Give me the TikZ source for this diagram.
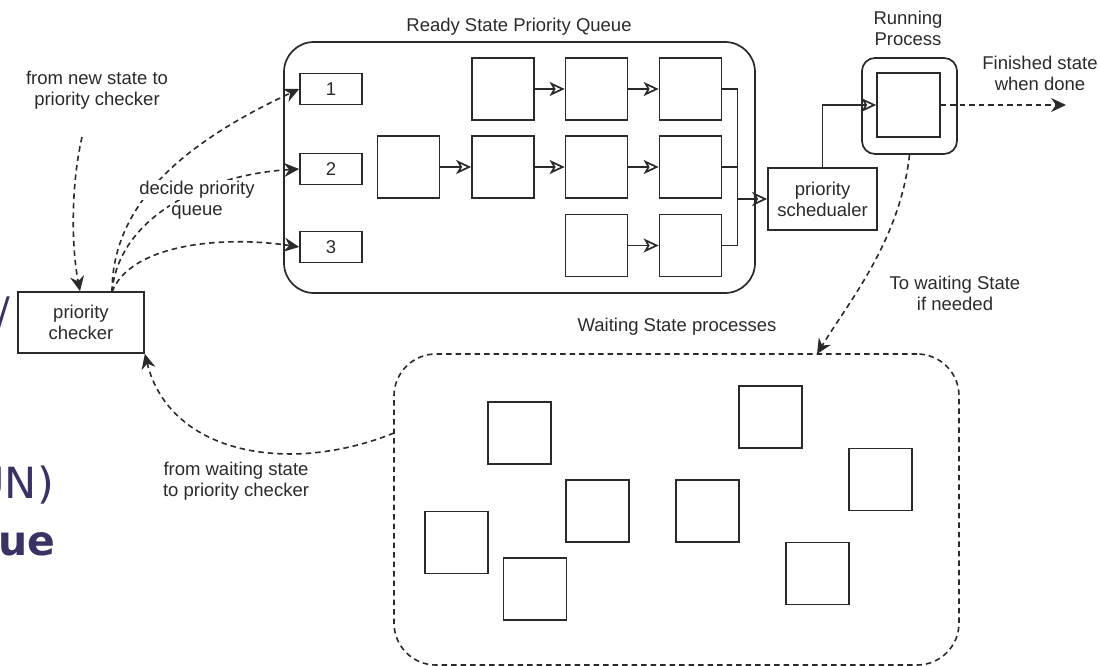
\documentclass[tikz,border=0pt]{standalone}
\usepackage{fontspec}
\setmainfont{Liberation Sans}
\newfontfamily\dejavu{DejaVu Sans}
\usetikzlibrary{arrows.meta}
\definecolor{ink}{HTML}{2A2A2A}
\definecolor{plum}{HTML}{3A3262}
\begin{document}
\begin{tikzpicture}[x=1pt,y=-1pt,
  every node/.style={font=\fontsize{18.5}{21}\selectfont, text=ink, align=center},
  proc/.style={draw=ink, line width=1.7pt, fill=white, minimum width=62pt, minimum height=62pt, inner sep=0pt},
  wproc/.style={proc, minimum width=63pt},
  tag/.style={draw=ink, line width=1.7pt, minimum width=62pt, minimum height=31pt, inner sep=0pt},
  boxed/.style={draw=ink, line width=1.7pt, inner sep=0pt},
  link/.style={draw=ink, line width=1.7pt},
  openlink/.style={link, -{Stealth[open, length=15pt, width=14pt, inset=4pt, fill=white]}},
  dashlink/.style={draw=ink, line width=1.6pt, dash pattern=on 5.5pt off 4pt,
                   -{Stealth[length=15pt, width=14pt, inset=5pt]}},
  frag/.style={text=plum, inner sep=0pt, anchor=base east}
]
\useasboundingbox (0,0) rectangle (1098,666);
\clip (0,0) rectangle (1098,666);

% trailing lettering at the left edge
\node[frag, font=\dejavu\fontsize{38}{40}\selectfont] (fragS) at (11,324) {/};
\node[frag, font=\dejavu\fontsize{43}{44}\selectfont] (fragR) at (54,498) {UN)};
\node[frag, font=\dejavu\bfseries\fontsize{41}{44}\selectfont] (fragQ) at (56,555) {ue};

% ready state priority queue
\node[boxed, rounded corners=30pt, minimum width=471pt, minimum height=251pt] (ready) at (519.5,167.5) {};
\node (readyT) at (519,27) {Ready State Priority Queue};

\node[tag] (p1) at (331,89) {1};
\node[tag] (p2) at (331,169) {2};
\node[tag] (p3) at (331,247) {3};

\node[proc] (b1) at (503,89) {};
\node[proc] (c1) at (596.5,89) {};
\node[proc] (d1) at (690.5,89) {};
\node[proc] (a2) at (408.5,167) {};
\node[proc] (b2) at (503,167) {};
\node[proc] (c2) at (596.5,167) {};
\node[proc] (d2) at (690.5,167) {};
\node[proc] (c3) at (596.5,245.5) {};
\node[proc] (d3) at (690.5,245.5) {};

\draw[openlink] (b1) -- (c1);
\draw[openlink] (c1) -- (d1);
\draw[openlink] (a2) -- (b2);
\draw[openlink] (b2) -- (c2);
\draw[openlink] (c2) -- (d2);
\draw[openlink] (c3) -- (d3);

% scheduler and running process
\node[boxed, minimum width=109pt, minimum height=62pt] (sched) at (822.5,199) {priority\\schedualer};
\coordinate (join) at (737.5,199);
\draw[link] (d1.east) -| (join);
\draw[link] (d3.east) -| (join);
\draw[link] (d2.east) -- (d2.east -| join);
\draw[openlink] (join) -- (sched.west);

\node[boxed, rounded corners=13pt, minimum width=95pt, minimum height=96pt] (runO) at (909.5,106) {};
\node[boxed, minimum width=63pt, minimum height=64pt] (run) at (908.5,105) {};
\node (runT) at (908,28) {Running\\Process};
\draw[openlink] (sched.north) |- (run.west);

\coordinate (done) at (1066,105);
\draw[dashlink] (run.east) -- (done);
\node (doneT) at (1040,73) {Finished state\\when done};

% priority checker
\node[boxed, minimum width=126pt, minimum height=61pt] (check) at (81,322.5) {priority\\checker};
\node (newT) at (97,90.5) {from new state to\\priority checker};
\coordinate (newS) at (82,137);
\draw[dashlink] (newS) .. controls (70,190) and (72,250) .. (check.north -| 80,0);

\coordinate (cTop) at (112,292);
\draw[dashlink] (cTop) .. controls (112,200) and (190,140) .. (p1.west);
\draw[dashlink] (cTop) .. controls (118,220) and (200,175) .. (p2.west);
\draw[dashlink] (cTop) .. controls (130,245) and (220,235) .. (p3.west);
\node[fill=white, inner sep=1pt] (decA) at (197,190) {decide priority};
\node[fill=white, inner sep=1pt] (decB) at (197,212) {queue};

% waiting state processes
\node[boxed, line width=1.6pt, dash pattern=on 5.5pt off 4pt, rounded corners=42pt, minimum width=565pt, minimum height=311pt] (wait) at (676.5,509.5) {};
\node (waitT) at (677,327) {Waiting State processes};
\node[wproc] (w1) at (519.5,433) {};
\node[wproc] (w2) at (770.5,417) {};
\node[wproc] (w3) at (880.5,479.5) {};
\node[wproc] (w4) at (597.5,511) {};
\node[wproc] (w5) at (707.5,511) {};
\node[wproc] (w6) at (456.5,542.5) {};
\node[wproc] (w7) at (535,589) {};
\node[wproc] (w8) at (817.5,573.5) {};

\coordinate (waitIn) at (817,354);
\draw[dashlink] (runO.south) .. controls (900,240) and (850,300) .. (waitIn);
\node (toWaitT) at (955,293.5) {To waiting State\\if needed};

\coordinate (waitOut) at (394,433);
\draw[dashlink] (waitOut) .. controls (290,475) and (170,455) .. (check.south east);
\node (backT) at (236,481) {from waiting state\\to priority checker};
\end{tikzpicture}
\end{document}
